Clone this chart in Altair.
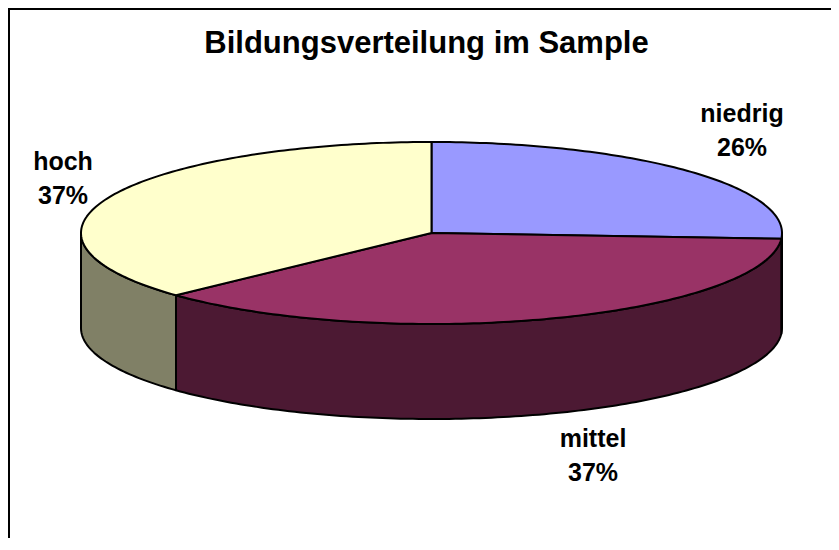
import numpy as np
import pandas as pd
import altair as alt

# ---- data ----
categories = ["niedrig", "mittel", "hoch"]
shares = [26, 37, 37]
top_colors = ["#9999FF", "#993366", "#FFFFCC"]
side_colors = ["#4C4C80", "#4C1933", "#808066"]
title_text = ["Bildungsverteilung im Sample"]

# ---- layout (page pixel units) ----
W, H = 823, 530
CX, CY, RX, RY, DEPTH = 431.5, 233.0, 350.5, 91.0, 95.0
label_x = [742, 593, 63]
label_y = [122, 447, 170]   # baseline of first line
LINE_GAP = 34
TITLE_X, TITLE_Y = 426.5, 53


def ell(theta_deg, dy=0.0):
    t = np.radians(theta_deg)
    return CX + RX * np.sin(t), CY - RY * np.cos(t) + dy


def arc_angles(a1, a2):
    n = max(int(np.ceil(abs(a2 - a1))), 1)
    return np.linspace(a1, a2, n + 1)


top_rows, side_rows = [], []
total = float(sum(shares))
start = 0.0
for cat, s, tc, sc in zip(categories, shares, top_colors, side_colors):
    a1 = start
    a2 = start + 360.0 * s / total
    start = a2
    # top face wedge
    pts = [(CX, CY)]
    for a in arc_angles(a1, a2):
        pts.append(ell(a))
    pts.append((CX, CY))
    for i, (x, y) in enumerate(pts):
        top_rows.append({"piece": cat, "i": i, "x": x, "y": y, "fill": tc})
    # visible side (front half: 90..270 deg)
    b1, b2 = max(a1, 90.0), min(a2, 270.0)
    if b2 > b1:
        angs = arc_angles(b1, b2)
        pts = [ell(a) for a in angs] + [ell(a, DEPTH) for a in angs[::-1]]
        pts.append(pts[0])
        for i, (x, y) in enumerate(pts):
            side_rows.append({"piece": cat, "i": i, "x": x, "y": y, "fill": sc})

top_df = pd.DataFrame(top_rows)
side_df = pd.DataFrame(side_rows)

label_rows = []
for cat, s, lx, ly in zip(categories, shares, label_x, label_y):
    label_rows.append({"x": lx, "y": ly, "t": cat})
    label_rows.append({"x": lx, "y": ly + LINE_GAP, "t": f"{s}%"})
label_df = pd.DataFrame(label_rows)
title_df = pd.DataFrame({"x": [TITLE_X], "y": [TITLE_Y], "t": title_text})

xs = alt.X("x:Q", scale=alt.Scale(domain=[8, 8 + W], nice=False, zero=False), axis=None)
ys = alt.Y("y:Q", scale=alt.Scale(domain=[8, 8 + H], nice=False, zero=False, reverse=True), axis=None)

sides = alt.Chart(side_df).mark_line(stroke="black", strokeWidth=2, strokeJoin="round").encode(
    x=xs, y=ys, order=alt.Order("i:Q"), detail="piece:N", fill=alt.Fill("fill:N", scale=None)
)
tops = alt.Chart(top_df).mark_line(stroke="black", strokeWidth=2, strokeJoin="round").encode(
    x=xs, y=ys, order=alt.Order("i:Q"), detail="piece:N", fill=alt.Fill("fill:N", scale=None)
)
labels = alt.Chart(label_df).mark_text(
    font="Liberation Sans", fontSize=25, fontWeight="bold", align="center", baseline="alphabetic", color="black"
).encode(x=xs, y=ys, text="t:N")
title = alt.Chart(title_df).mark_text(
    font="Liberation Sans", fontSize=31, fontWeight="bold", align="center", baseline="alphabetic", color="black"
).encode(x=xs, y=ys, text="t:N")

border_top = alt.Chart(title_df).mark_rule(color="black", strokeWidth=2).encode(
    x=alt.value(0), x2=alt.value(W), y=alt.value(1)
)
border_left = alt.Chart(title_df).mark_rule(color="black", strokeWidth=2).encode(
    y=alt.value(0), y2=alt.value(H), x=alt.value(1)
)

chart = alt.layer(border_top, border_left, sides, tops, labels, title).properties(
    width=W, height=H, padding=0, autosize=alt.AutoSizeParams(type="none")
).configure_view(stroke=None)

chart.save("out.html", embed_options={"renderer": "svg", "actions": False})
